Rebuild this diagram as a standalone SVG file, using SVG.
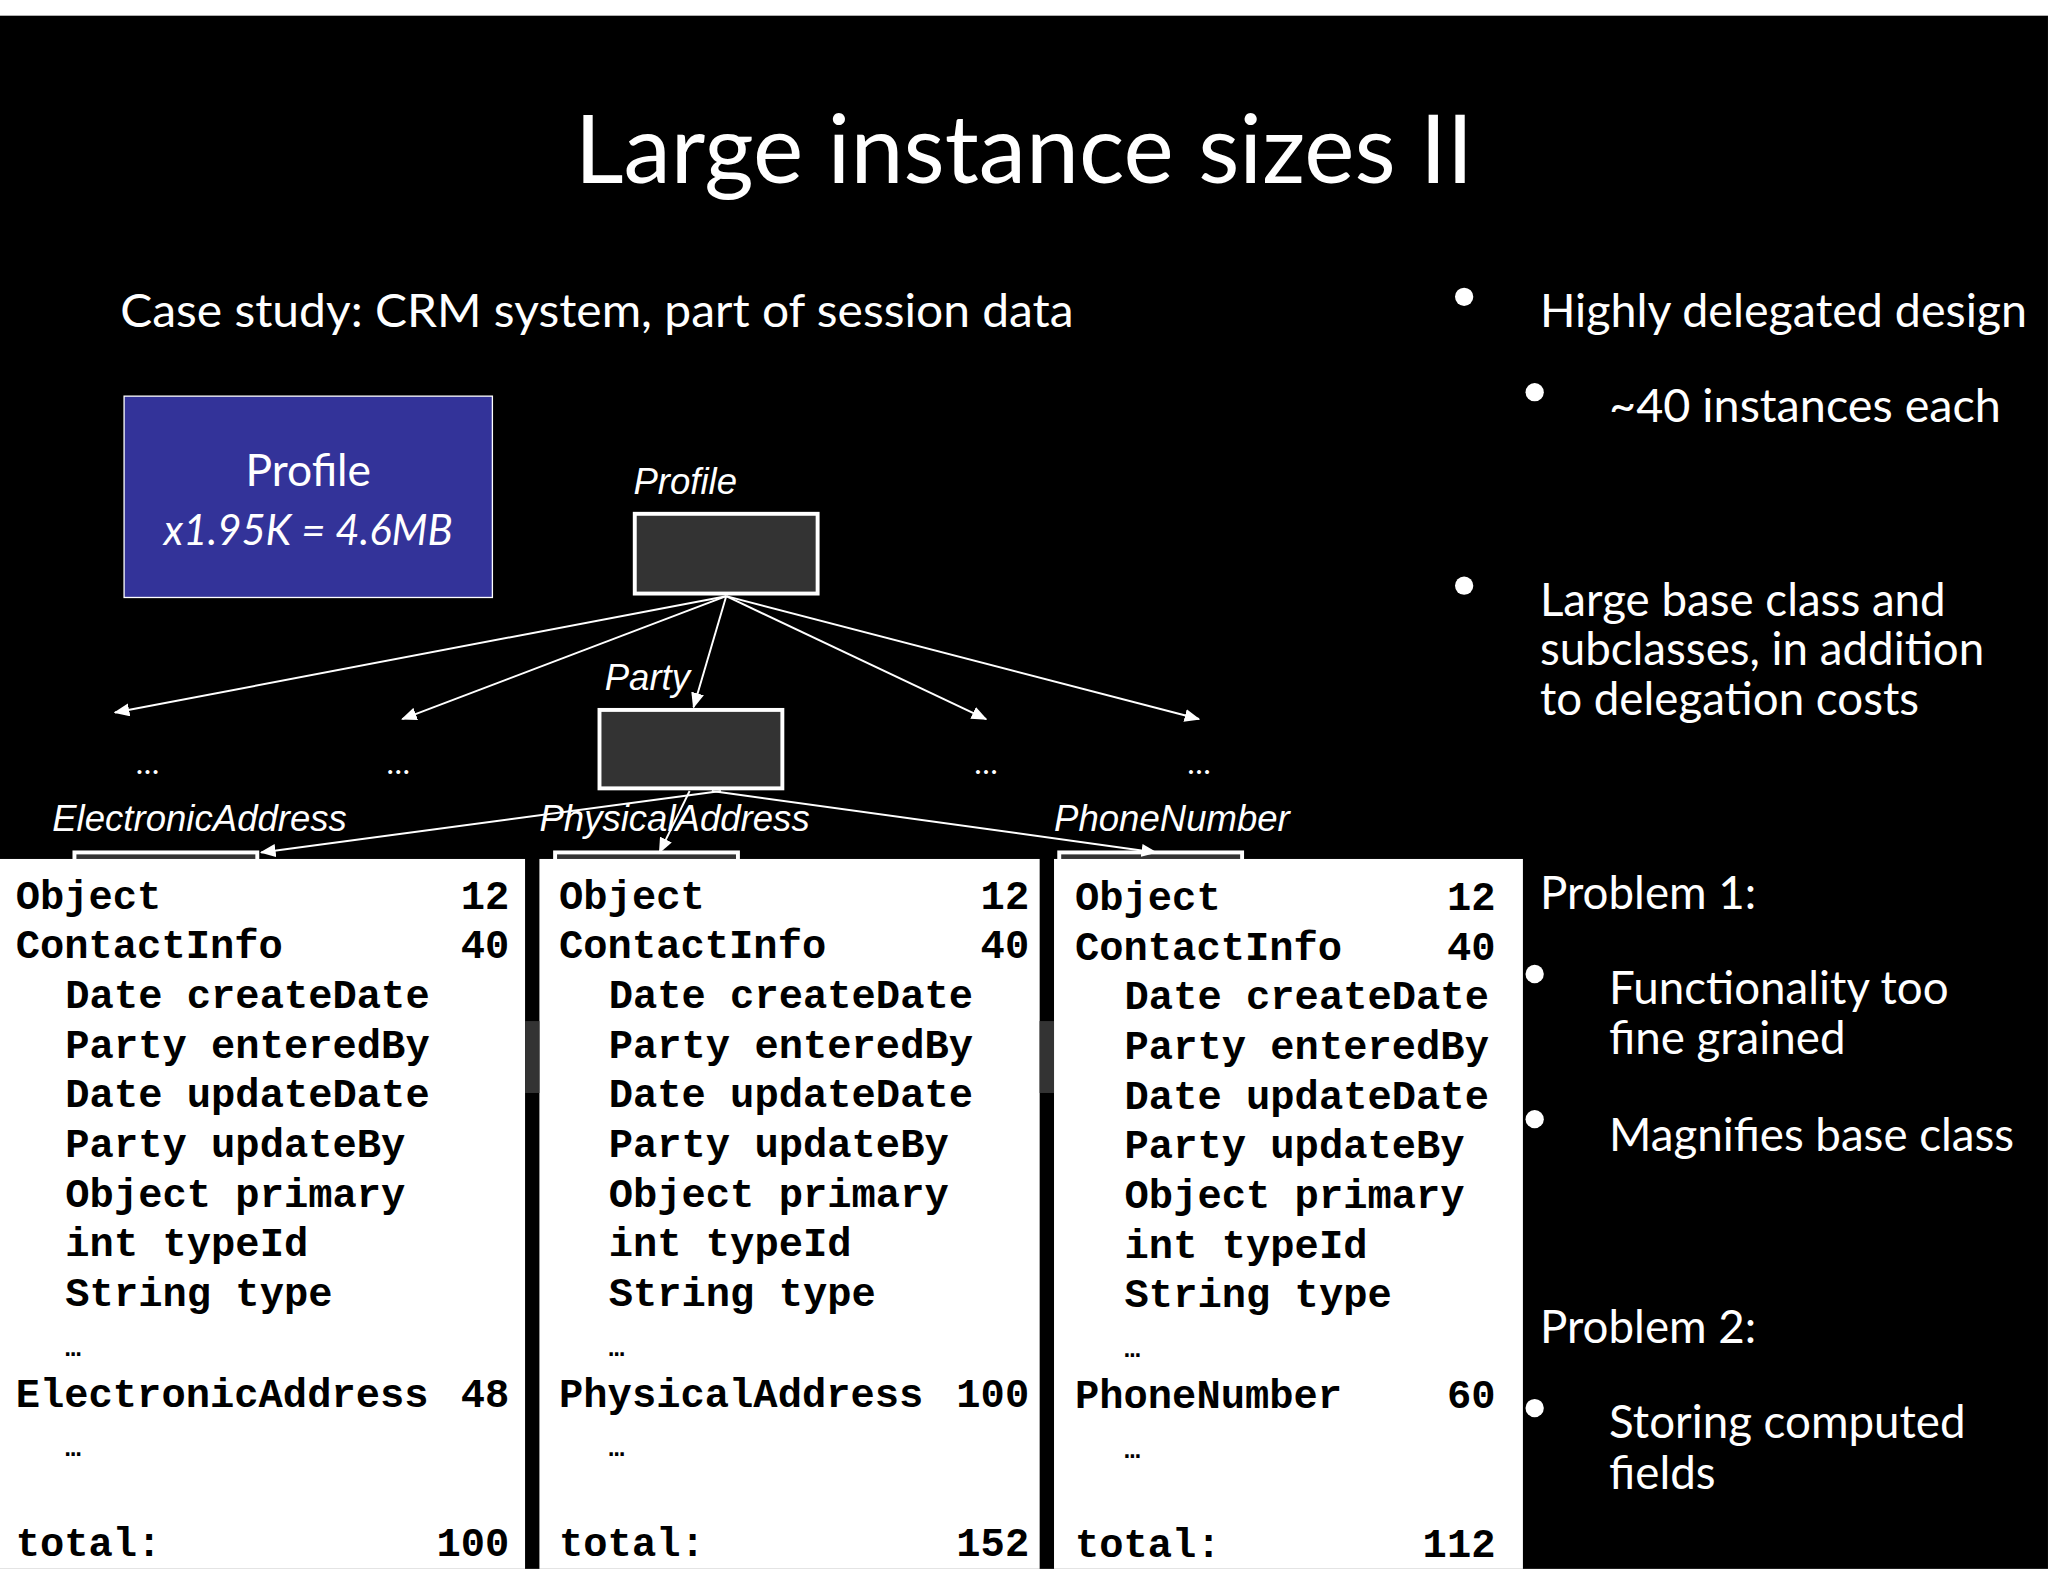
<svg xmlns="http://www.w3.org/2000/svg" width="2048" height="1582" viewBox="0 0 2048 1582">
<defs>
<marker id="ah" viewBox="0 0 12 10" refX="11" refY="5" markerWidth="12" markerHeight="10" markerUnits="userSpaceOnUse" orient="auto"><path d="M0,0 L12,5 L0,10 z" fill="#fff"/></marker>
<style>
.s{font-family:Lato,"Open Sans",sans-serif;fill:#fff}
.c{font-family:"Liberation Sans Narrow","Liberation Sans",sans-serif;font-style:italic;fill:#fff;font-size:28px}
.m{font-family:"Liberation Mono",monospace;font-weight:bold;font-size:31px;fill:#000}
.e{text-anchor:end}
.n{fill:#333;stroke:#fff;stroke-width:3}
.ln{stroke:#fff;stroke-width:1.5;fill:none;marker-end:url(#ah)}
</style>
</defs>
<rect width="2048" height="1582" fill="#fff"/>
<g transform="scale(1.3061,1.3074)">
<rect x="0" y="12" width="1568" height="1188" fill="#000"/>
<text class="s" x="784" y="140" font-size="72" text-anchor="middle" textLength="688" lengthAdjust="spacingAndGlyphs">Large instance sizes II</text>
<text class="s" x="92" y="250" font-size="36" textLength="730" lengthAdjust="spacingAndGlyphs">Case study: CRM system, part of session data</text>
<g id="summary"><rect x="95" y="303" width="282" height="154" fill="#333399" stroke="#fff" stroke-width="1"/>
<text class="s" x="236" y="372" font-size="34" text-anchor="middle">Profile</text>
<text class="s" x="236" y="417" font-size="32" font-style="italic" text-anchor="middle">x1.95K = 4.6MB</text></g>
<g id="hidden-nodes">
<rect class="n" x="57" y="652" width="140" height="60"/><rect class="n" x="425" y="652" width="140" height="60"/><rect class="n" x="811" y="652" width="140" height="60"/>
</g>
<g id="connectors">
<line class="ln" x1="556" y1="456" x2="88" y2="545"/>
<line class="ln" x1="556" y1="456" x2="308" y2="550"/>
<line class="ln" x1="556" y1="456" x2="531" y2="541"/>
<line class="ln" x1="556" y1="456" x2="755" y2="550"/>
<line class="ln" x1="556" y1="456" x2="918" y2="550"/>
<line class="ln" x1="552" y1="605" x2="200" y2="652"/>
<line class="ln" x1="528" y1="605" x2="505" y2="652"/>
<line class="ln" x1="545" y1="605" x2="885" y2="652"/>
</g>
<g id="profile"><text class="c" x="485" y="378">Profile</text><rect class="n" x="486" y="393" width="140" height="61"/></g>
<g id="party"><text class="c" x="463" y="528">Party</text><rect class="n" x="459" y="543" width="140" height="60"/></g>
<g id="dots" class="s" font-size="24" text-anchor="middle"><text x="113" y="592">…</text><text x="305" y="592">…</text><text x="755" y="592">…</text><text x="918" y="592">…</text></g>
<g id="labels"><text class="c" x="40" y="636">ElectronicAddress</text><text class="c" x="413" y="636">PhysicalAddress</text><text class="c" x="807" y="636">PhoneNumber</text></g>
<rect x="0" y="657" width="402" height="543" fill="#fff"/>
<rect x="413" y="657" width="383" height="543" fill="#fff"/>
<rect x="807" y="657" width="359" height="543" fill="#fff"/>
<rect x="402" y="781" width="11" height="55" fill="#333"/><rect x="796" y="781" width="11" height="55" fill="#333"/>
<g id="table-electronic" class="m">
<text x="12" y="695">Object</text><text class="e" x="390" y="695">12</text>
<text x="12" y="733">ContactInfo</text><text class="e" x="390" y="733">40</text>
<text x="50" y="771">Date createDate</text><text x="50" y="809">Party enteredBy</text><text x="50" y="847">Date updateDate</text><text x="50" y="885">Party updateBy</text><text x="50" y="923">Object primary</text><text x="50" y="961">int typeId</text><text x="50" y="999">String type</text>
<text x="50" y="1037" font-size="20">…</text>
<text x="12" y="1076">ElectronicAddress</text><text class="e" x="390" y="1076">48</text>
<text x="50" y="1114" font-size="20">…</text>
<text x="12" y="1190">total:</text><text class="e" x="390" y="1190">100</text>
</g>
<g id="table-physical" class="m">
<text x="428" y="695">Object</text><text class="e" x="788" y="695">12</text>
<text x="428" y="733">ContactInfo</text><text class="e" x="788" y="733">40</text>
<text x="466" y="771">Date createDate</text><text x="466" y="809">Party enteredBy</text><text x="466" y="847">Date updateDate</text><text x="466" y="885">Party updateBy</text><text x="466" y="923">Object primary</text><text x="466" y="961">int typeId</text><text x="466" y="999">String type</text>
<text x="466" y="1037" font-size="20">…</text>
<text x="428" y="1076">PhysicalAddress</text><text class="e" x="788" y="1076">100</text>
<text x="466" y="1114" font-size="20">…</text>
<text x="428" y="1190">total:</text><text class="e" x="788" y="1190">152</text>
</g>
<g id="table-phone" class="m">
<text x="823" y="696">Object</text><text class="e" x="1145" y="696">12</text>
<text x="823" y="734">ContactInfo</text><text class="e" x="1145" y="734">40</text>
<text x="861" y="772">Date createDate</text><text x="861" y="810">Party enteredBy</text><text x="861" y="848">Date updateDate</text><text x="861" y="886">Party updateBy</text><text x="861" y="924">Object primary</text><text x="861" y="962">int typeId</text><text x="861" y="1000">String type</text>
<text x="861" y="1038" font-size="20">…</text>
<text x="823" y="1077">PhoneNumber</text><text class="e" x="1145" y="1077">60</text>
<text x="861" y="1115" font-size="20">…</text>
<text x="823" y="1191">total:</text><text class="e" x="1145" y="1191">112</text>
</g>
<g id="bullets" class="s" font-size="35">
<circle cx="1121" cy="227" r="7" fill="#fff"/><circle cx="1175" cy="300" r="7" fill="#fff"/><circle cx="1121" cy="448" r="7" fill="#fff"/>
<circle cx="1175" cy="745" r="7" fill="#fff"/><circle cx="1175" cy="856" r="7" fill="#fff"/><circle cx="1175" cy="1077" r="7" fill="#fff"/>
<text x="1179" y="250" textLength="373" lengthAdjust="spacingAndGlyphs">Highly delegated design</text>
<text x="1232" y="323" textLength="300" lengthAdjust="spacingAndGlyphs">~40 instances each</text>
<text x="1179" y="471">Large base class and</text>
<text x="1179" y="509">subclasses, in addition</text>
<text x="1179" y="547">to delegation costs</text>
<text x="1179" y="695">Problem 1:</text>
<text x="1232" y="768">Functionality too</text>
<text x="1232" y="806">fine grained</text>
<text x="1232" y="880" textLength="310" lengthAdjust="spacingAndGlyphs">Magnifies base class</text>
<text x="1179" y="1027">Problem 2:</text>
<text x="1232" y="1100">Storing computed</text>
<text x="1232" y="1139">fields</text>
</g>
</g>
</svg>
